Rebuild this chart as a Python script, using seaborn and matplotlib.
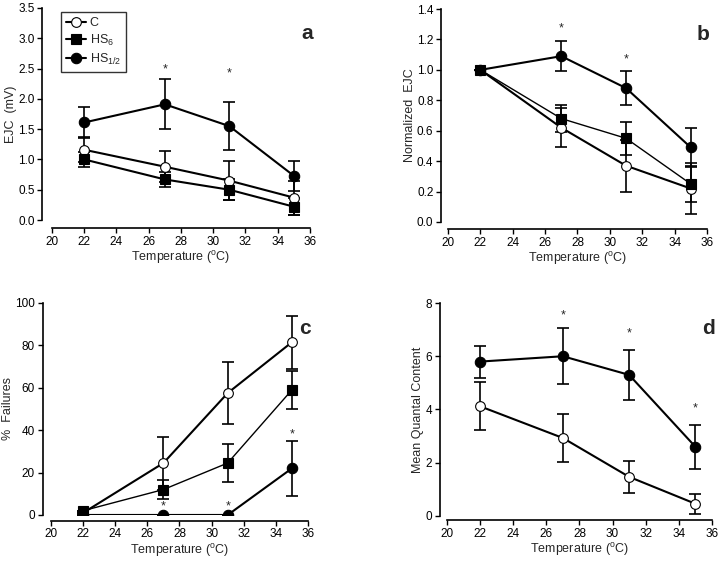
import numpy as np
import pandas as pd
import matplotlib
matplotlib.use("Agg")
import matplotlib.pyplot as plt
import seaborn as sns

# Temperatures (deg C)
temps = [22, 27, 31, 35]

# a: EJC (mV)
ejc_c = [1.16, 0.88, 0.65, 0.37]
ejc_c_err = [0.21, 0.26, 0.32, 0.28]
ejc_hs6 = [1.00, 0.67, 0.50, 0.22]
ejc_hs6_err = [0.12, 0.12, 0.17, 0.14]
ejc_hs12 = [1.61, 1.91, 1.55, 0.73]
ejc_hs12_err = [0.25, 0.41, 0.39, 0.25]

# b: normalized EJC
norm_c = [1.00, 0.62, 0.37, 0.22]
norm_c_err = [0.0, 0.13, 0.17, 0.17]
norm_hs6 = [1.00, 0.68, 0.55, 0.25]
norm_hs6_err = [0.0, 0.09, 0.11, 0.12]
norm_hs12 = [1.00, 1.09, 0.88, 0.49]
norm_hs12_err = [0.0, 0.10, 0.11, 0.13]

# c: % failures
fail_c = [1.0, 24.5, 57.5, 81.5]
fail_c_err = [0.0, 12.5, 14.5, 12.5]
fail_hs6 = [2.0, 12.0, 24.5, 59.0]
fail_hs6_err = [0.0, 4.5, 9.0, 9.0]
fail_hs12 = [0.0, 0.0, 0.0, 22.0]
fail_hs12_err = [0.0, 0.0, 0.0, 13.0]

# d: mean quantal content
mqc_c = [4.12, 2.93, 1.47, 0.46]
mqc_c_err = [0.90, 0.90, 0.60, 0.37]
mqc_hs12 = [5.80, 6.00, 5.30, 2.60]
mqc_hs12_err = [0.60, 1.05, 0.93, 0.82]

# significance marks: (x, y)
stars_a = [(27, 2.48), (31, 2.42)]
stars_b = [(27, 1.27), (31, 1.07)]
stars_c = [(27, 4.0), (31, 4.0), (35, 38)]
stars_d = [(27, 7.55), (31, 6.85), (35, 4.05)]

sns.set_theme(style="ticks")
plt.rcParams['font.family'] = ['Liberation Sans', 'DejaVu Sans']
plt.rcParams['mathtext.fontset'] = 'custom'
plt.rcParams['mathtext.rm'] = 'Liberation Sans'
plt.rcParams['mathtext.it'] = 'Liberation Sans'

fig = plt.figure(figsize=(7.2, 5.63), dpi=100)
ax_a = fig.add_axes([0.0722, 0.6092, 0.3583, 0.3766])
ax_b = fig.add_axes([0.6222, 0.6057, 0.3597, 0.3783])
ax_c = fig.add_axes([0.0708, 0.0853, 0.3570, 0.3766])
ax_d = fig.add_axes([0.6208, 0.0835, 0.3680, 0.3783])

styles = {
    "C": dict(marker="o", mfc="white", mec="black", ms=7, mew=0.8),
    "HS6": dict(marker="s", mfc="black", mec="black", ms=7, mew=0.8),
    "HS12": dict(marker="o", mfc="black", mec="black", ms=7.5, mew=0.8),
}
labels = {"C": "C", "HS6": "HS$_6$", "HS12": "HS$_{1/2}$"}


def draw(ax, y, err, key, lw=1.5, label=None):
    df = pd.DataFrame({"t": temps, "v": y})
    sns.lineplot(data=df, x="t", y="v", ax=ax, color="black", lw=lw,
                 label=label, legend=False, zorder=3, **styles[key])
    ax.errorbar(temps, y, yerr=err, fmt="none", ecolor="black",
                elinewidth=1.2, capsize=4, capthick=1.2, zorder=2)


def style_ax(ax, ylim, yticks, fmt, ylabel, letter, off_l, off_b):
    ax.set_xlim(20, 36)
    ax.set_xticks(range(20, 37, 2))
    ax.set_ylim(*ylim)
    ax.set_yticks(yticks)
    ax.set_yticklabels([fmt.format(v) for v in yticks])
    for s in ["top", "right"]:
        ax.spines[s].set_visible(False)
    ax.spines["left"].set_position(("outward", off_l))
    ax.spines["bottom"].set_position(("outward", off_b))
    for s in ["left", "bottom"]:
        ax.spines[s].set_linewidth(1.2)
        ax.spines[s].set_color("black")
    ax.tick_params(direction="out", length=3.5, width=1, colors="black",
                   labelsize=8.5, pad=2)
    ax.set_xlabel("Temperature ($^{\\rm o}$C)", fontsize=9, labelpad=1)
    ax.set_ylabel(ylabel, fontsize=9, labelpad=1)
    ax.text(1.01, 0.88, letter, transform=ax.transAxes, fontsize=15,
            fontweight="bold", ha="right", va="center")
    ax.set_facecolor("white")


def stars(ax, pts):
    for x, y in pts:
        ax.text(x, y, "*", ha="center", va="center", fontsize=9)


# a
draw(ax_a, ejc_c, ejc_c_err, "C", label=labels["C"])
draw(ax_a, ejc_hs6, ejc_hs6_err, "HS6", label=labels["HS6"])
draw(ax_a, ejc_hs12, ejc_hs12_err, "HS12", label=labels["HS12"])
stars(ax_a, stars_a)
style_ax(ax_a, (0, 3.5), np.arange(0, 3.51, 0.5), "{:.1f}", "EJC  (mV)", "a", 7, 6)
leg = ax_a.legend(loc="upper left", bbox_to_anchor=(0.01, 1.01), fontsize=9,
                  frameon=True, fancybox=False, edgecolor="black",
                  handlelength=1.6, borderpad=0.4, labelspacing=0.3,
                  handletextpad=0.3)
leg.get_frame().set_linewidth(1.0)

# b
draw(ax_b, norm_c, norm_c_err, "C")
draw(ax_b, norm_hs6, norm_hs6_err, "HS6", lw=1.0)
draw(ax_b, norm_hs12, norm_hs12_err, "HS12")
stars(ax_b, stars_b)
style_ax(ax_b, (0, 1.4), np.arange(0, 1.41, 0.2), "{:.1f}", "Normalized  EJC", "b", 5, 5)

# c
draw(ax_c, fail_c, fail_c_err, "C")
draw(ax_c, fail_hs6, fail_hs6_err, "HS6", lw=1.0)
draw(ax_c, fail_hs12, fail_hs12_err, "HS12")
stars(ax_c, stars_c)
style_ax(ax_c, (0, 100), range(0, 101, 20), "{:d}", "%  Failures", "c", 6, 4)

# d
draw(ax_d, mqc_c, mqc_c_err, "C")
draw(ax_d, mqc_hs12, mqc_hs12_err, "HS12")
stars(ax_d, stars_d)
style_ax(ax_d, (0, 8), range(0, 9, 2), "{:d}", "Mean Quantal Content", "d", 5, 3)

fig.savefig("out.png", dpi=100, facecolor="white")
